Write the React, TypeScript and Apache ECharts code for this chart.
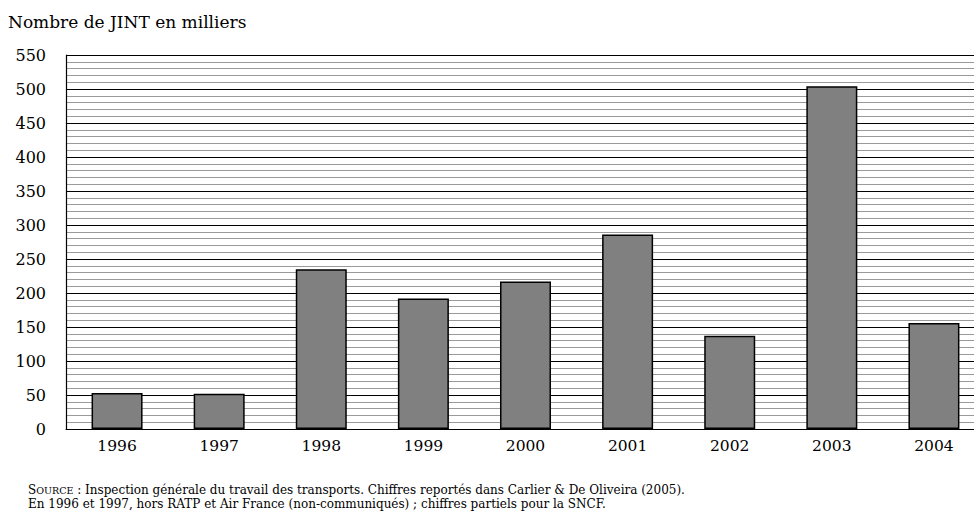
import React, { useEffect, useRef } from "react";
import * as echarts from "echarts";

const years = ["1996", "1997", "1998", "1999", "2000", "2001", "2002", "2003", "2004"];
const values = [53, 52, 235, 192, 217, 286, 137, 504, 156];
const yTitle = "Nombre de JINT en milliers";
const sourceLine1 = " : Inspection générale du travail des transports. Chiffres reportés dans Carlier & De Oliveira (2005).";
const sourceLine2 = "En 1996 et 1997, hors RATP et Air France (non-communiqués) ; chiffres partiels pour la SNCF.";

const FONT = "'DejaVu Serif', 'Liberation Serif', serif";

export default function App() {
  const ref = useRef<HTMLDivElement>(null);
  useEffect(() => {
    if (!ref.current) return;
    const chart = echarts.init(ref.current, null, { renderer: "svg" });
    chart.setOption({
      animation: false,
      backgroundColor: "#ffffff",
      textStyle: { fontFamily: FONT, color: "#000" },
      grid: { left: 66, right: 15, top: 55, height: 374, containLabel: false, outerBoundsMode: "none" },
      xAxis: {
        type: "category",
        data: years,
        axisLine: { show: true, lineStyle: { color: "#000", width: 1.2 } },
        axisTick: { show: false },
        axisLabel: { color: "#000", fontFamily: FONT, fontSize: 15.5, margin: 9 },
        splitLine: { show: false },
      },
      yAxis: {
        type: "value",
        min: 0,
        max: 550,
        interval: 50,
        axisLine: { show: true, lineStyle: { color: "#000", width: 1.2 } },
        axisTick: { show: false },
        axisLabel: { color: "#000", fontFamily: FONT, fontSize: 16, margin: 20 },
        splitLine: { show: true, lineStyle: { color: "#000", width: 1 } },
        minorTick: { show: false, splitNumber: 5 },
        minorSplitLine: { show: true, lineStyle: { color: "#9a9a9a", width: 1 } },
      },
      series: [
        {
          type: "bar",
          data: values,
          barWidth: 51,
          itemStyle: { color: "#808080", borderColor: "#000", borderWidth: 1.5 },
        },
      ],
      graphic: [
        {
          type: "text",
          left: 8,
          top: 13,
          style: { text: yTitle, fontFamily: FONT, fontSize: 17, fill: "#000" },
        },
        {
          type: "text",
          left: 28,
          top: 484,
          style: {
            text: "{a|S}{b|OURCE}{a|" + sourceLine1 + "}",
            fill: "#000",
            rich: {
              a: { fontFamily: FONT, fontSize: 12, fill: "#000" },
              b: { fontFamily: FONT, fontSize: 9.5, fill: "#000" },
            },
          },
        },
        {
          type: "text",
          left: 28,
          top: 498,
          style: { text: sourceLine2, fontFamily: FONT, fontSize: 12, fill: "#000" },
        },
      ],
    });
    return () => chart.dispose();
  }, []);
  return (
    <div style={{ position: "absolute", left: 0, top: 0, width: 974, height: 516, overflow: "hidden", background: "#fff" }}>
      <div ref={ref} style={{ width: 1000, height: 516 }} />
    </div>
  );
}
